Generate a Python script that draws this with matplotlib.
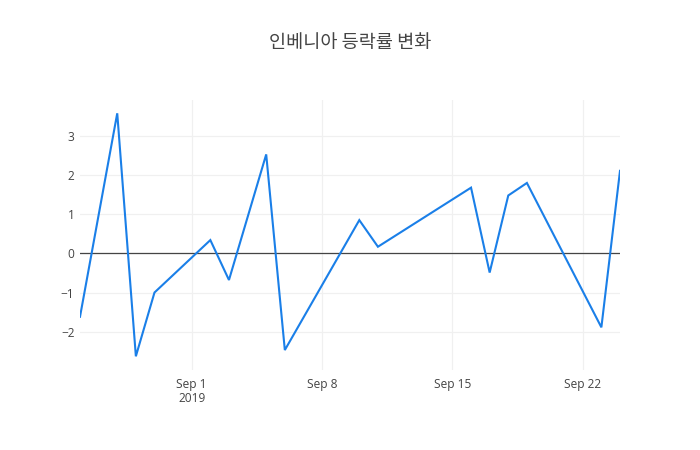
import matplotlib
matplotlib.use("Agg")
import matplotlib.pyplot as plt
import datetime as dt

plt.rcParams['font.family'] = ['Open Sans', 'Noto Sans CJK KR', 'DejaVu Sans']

title = "인베니아 등락률 변화"
dates = ["2019-08-26", "2019-08-28", "2019-08-29", "2019-08-30", "2019-09-02",
         "2019-09-03", "2019-09-05", "2019-09-06", "2019-09-10", "2019-09-11",
         "2019-09-16", "2019-09-17", "2019-09-18", "2019-09-19", "2019-09-23",
         "2019-09-24"]
values = [-1.62, 3.58, -2.63, -1.0, 0.34, -0.68, 2.53, -2.47, 0.85, 0.17,
          1.68, -0.49, 1.48, 1.80, -1.89, 2.11]
xtick_dates = ["2019-09-01", "2019-09-08", "2019-09-15", "2019-09-22"]
xtick_labels = ["Sep 1\n2019", "Sep 8", "Sep 15", "Sep 22"]
ytick_vals = [-2, -1, 0, 1, 2, 3]
ytick_labels = ["−2", "−1", "0", "1", "2", "3"]

x = [dt.datetime.strptime(d, "%Y-%m-%d") for d in dates]
xt = [dt.datetime.strptime(d, "%Y-%m-%d") for d in xtick_dates]

fig = plt.figure(figsize=(7, 4.5), dpi=100)
ax = fig.add_axes([80/700, 80/450, 540/700, 270/450])

ax.plot(x, values, color='#1a7fe8', linewidth=1.5, solid_joinstyle='miter', zorder=3)
ax.axhline(0, color='#444444', linewidth=0.9, zorder=2)

ax.set_xlim(x[0], x[-1])
ax.set_ylim(-2.98, 3.92)
ax.set_xticks(xt)
ax.set_xticklabels(xtick_labels, fontsize=8.6, color='#444444', linespacing=1.1)
ax.set_yticks(ytick_vals)
ax.set_yticklabels(ytick_labels, fontsize=8.6, color='#444444')
ax.grid(True, color='#f0f0f0', linewidth=0.9, zorder=0)
ax.tick_params(length=0, pad=6)
ax.tick_params(axis='y', pad=4)
for s in ax.spines.values():
    s.set_visible(False)

fig.text(0.5, 1 - 43/450, title, ha='center', va='center', fontsize=13.4,
         color='#444444', family=['Noto Sans CJK KR', 'DejaVu Sans'])

fig.savefig("out.png", dpi=100)
